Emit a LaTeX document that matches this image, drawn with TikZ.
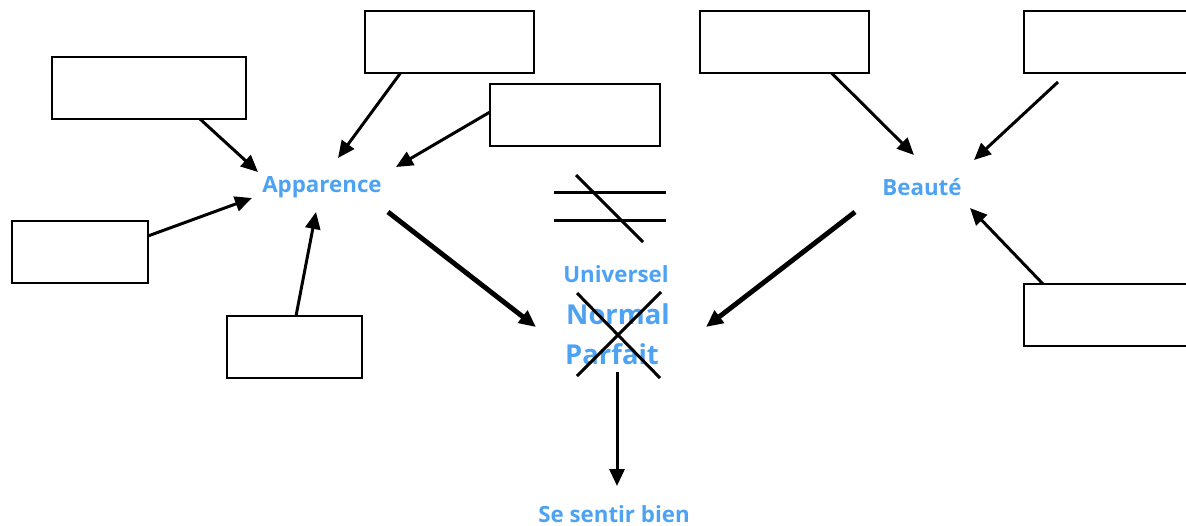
\documentclass[tikz,border=0pt]{standalone}
\usepackage{fontspec}
\newfontfamily\labelfont{Open Sans}
\usetikzlibrary{calc,arrows.meta}
\definecolor{labelblue}{HTML}{4DA3F2}

\begin{document}
\begin{tikzpicture}[
  x=0.02cm, y=-0.02cm,
  boxstyle/.style={draw, line width=1.2pt, inner sep=0, outer sep=0, minimum height=1.24cm},
  wordstyle/.style={inner sep=0, outer sep=0, text=labelblue, font=\labelfont\bfseries\fontsize{12.7}{15}\selectfont},
  bigwordstyle/.style={wordstyle, font=\labelfont\bfseries\fontsize{15.6}{18}\selectfont},
  pathstyle/.style={-{Triangle[length=3.4mm, width=3mm]}, line width=1.7pt},
  mainpathstyle/.style={pathstyle, line width=2.8pt},
  markstyle/.style={line width=1.7pt}
]
  \useasboundingbox (0,0) rectangle (1186,525);

  % boxes
  \node[boxstyle, minimum width=3.88cm] (B1) at (149,88) {};
  \node[boxstyle, minimum width=3.38cm] (B2) at (449.5,42) {};
  \node[boxstyle, minimum width=3.40cm] (B3) at (575,115) {};
  \node[boxstyle, minimum width=2.72cm] (B4) at (80,252) {};
  \node[boxstyle, minimum width=2.70cm] (B5) at (294.5,347) {};
  \node[boxstyle, minimum width=3.38cm] (B6) at (784.5,42) {};
  \node[boxstyle, minimum width=3.60cm] (B7) at (1114,42) {};
  \node[boxstyle, minimum width=3.60cm] (B8) at (1114,315) {};

  % words
  \node[wordstyle] (APP) at (322,187) {Apparence};
  \node[wordstyle] (BEAU) at (922,187) {Beaut\'e};
  \node[wordstyle] (UNIV) at (616,274) {Universel};
  \node[bigwordstyle] (NORM) at (618,314) {Normal};
  \node[bigwordstyle] (PARF) at (612,354) {Parfait};
  \node[wordstyle] (BIEN) at (614,514) {Se sentir bien};

  % not equal
  \draw[markstyle] (554,192) -- (666,192);
  \draw[markstyle] (554,220) -- (666,220);
  \draw[markstyle] (576,175) -- (643,242);

  % cross
  \draw[markstyle] (577,293) -- (660,378);
  \draw[markstyle] (661,292) -- (577,376);

  \draw[pathstyle] ($(B1.south)+(51,0)$) -- ($(APP)+(-64,-15)$);
  \draw[pathstyle] ($(B2.south)+(-49,0)$) -- ($(APP)+(16,-29)$);
  \draw[pathstyle] ($(B3.west)+(0,-3)$) -- ($(APP)+(74,-20)$);
  \draw[pathstyle] ($(B4.east)+(0,-16)$) -- ($(APP)+(-70,11)$);
  \draw[pathstyle] ($(B5.north)+(1.5,0)$) -- ($(APP)+(-6,25)$);

  \draw[pathstyle] ($(B6.south)+(47,0)$) -- ($(BEAU)+(-8,-32)$);
  \draw[pathstyle] ($(B7.south)+(-56,9)$) -- ($(BEAU)+(52,-27)$);
  \draw[pathstyle] ($(B8.north)+(-71,0)$) -- ($(BEAU)+(48,21)$);

  \draw[mainpathstyle] ($(APP)+(66,25)$) -- ($(NORM)+(-82,13)$);
  \draw[mainpathstyle] ($(BEAU)+(-67,25)$) -- ($(NORM)+(88,13)$);
  \draw[pathstyle] ($(PARF)+(5,18)$) -- ($(BIEN)+(3,-28)$);
\end{tikzpicture}
\end{document}
